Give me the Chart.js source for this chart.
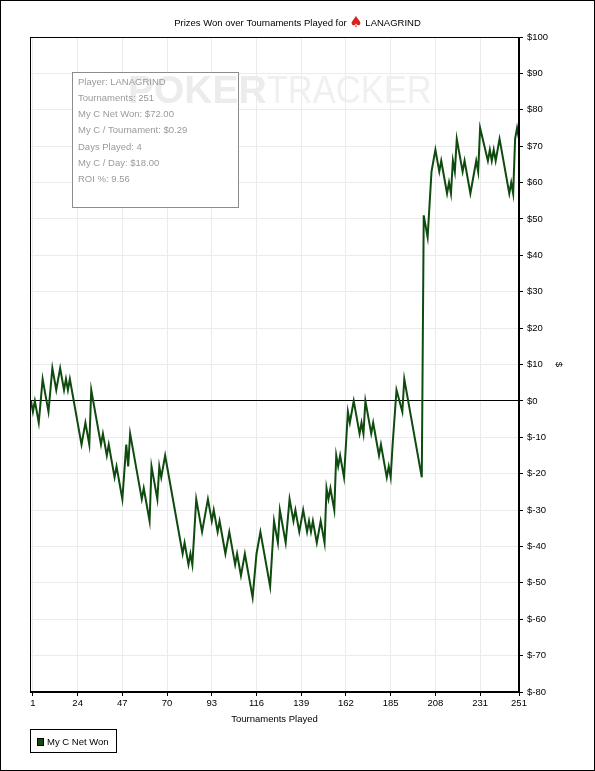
<!DOCTYPE html>
<html>
<head>
<meta charset="utf-8">
<script src="https://cdn.jsdelivr.net/npm/chart.js@4.4.1/dist/chart.umd.min.js"></script>
<style>
  body { margin: 0; background: #fff; }
  canvas { display: block; }
</style>
</head>
<body>
<canvas id="graficaTorneos" width="595" height="771"></canvas>
<script>
// 1. DATOS (vertices of the cumulative net won line)
const tournaments = [0,1,2,4,6,9,11,13,15,17,
  18,19,20,26,28,30,31,36,37,39,
  40,43,44,47,49,50,51,57,58,61,
  62,65,66,67,69,78,79,81,82,83,
  85,88,91,93,94,96,97,100,102,105,
  106,108,110,114,116,118,123,125,127,128,
  131,133,135,136,138,140,142,143,144,145,
  147,149,151,152,153,154,156,157,158,159,
  161,163,164,166,169,170,171,172,175,176,
  179,180,183,184,185,186,188,191,192,201,
  202,204,206,208,210,211,214,215,216,217,
  218,219,222,223,226,229,230,231,235,236,
  237,238,239,241,246,247,248,249,250,251];

const netWon = [0,-3,0,-6,6,-3,9,3,9,3,
  6,3,6,-12,-6,-12,3,-12,-9,-15,
  -12,-21,-18,-27,-12,-18,-9,-27,-24,-33,
  -18,-27,-18,-21,-15,-42,-39,-45,-42,-45,
  -27,-36,-27,-33,-30,-36,-33,-42,-36,-45,
  -42,-48,-42,-54,-42,-36,-51,-33,-39,-30,
  -39,-27,-33,-30,-36,-30,-36,-33,-36,-33,
  -39,-33,-39,-24,-27,-24,-30,-15,-18,-15,
  -21,-3,-6,0,-9,-6,-9,0,-9,-6,
  -15,-12,-21,-18,-21,-12,3,-3,6,-21,
  51,45,63,69,63,66,57,60,57,66,
  63,72,63,66,57,66,63,75,66,69,
  66,69,66,72,57,60,57,72,75,72];

const xTicks = [1,24,47,70,93,116,139,162,185,208,231,251];
const yMin = -80;
const yMax = 100;
const yStep = 10;

const seriesName = 'My C Net Won';
const playerName = 'LANAGRIND';
const titleText = 'Prizes Won over Tournaments Played for ';
const statsLines = [
  'Player: LANAGRIND',
  'Tournaments: 251',
  'My C Net Won: $72.00',
  'My C / Tournament: $0.29',
  'Days Played: 4',
  'My C / Day: $18.00',
  'ROI %: 9.56'
];

const lineColor = '#0f4a0f';
const FONT = '"Liberation Sans", Arial, sans-serif';

Chart.defaults.font.family = FONT;
Chart.defaults.font.size = 9.5;
Chart.defaults.color = '#000';

// 2. FONDO, MARCA DE AGUA Y CAJA DE ESTADISTICAS
const fondoPlugin = {
  id: 'fondo',
  beforeDraw(chart) {
    const ctx = chart.ctx;
    ctx.save();
    ctx.fillStyle = '#fff';
    ctx.fillRect(0, 0, chart.width, chart.height);
    ctx.restore();
  },
  beforeDatasetsDraw(chart) {
    const ctx = chart.ctx;
    ctx.save();
    // stats box background
    ctx.fillStyle = '#fff';
    ctx.fillRect(73, 73, 165, 134);

    // watermark
    ctx.textBaseline = 'alphabetic';
    ctx.fillStyle = '#ececec';
    ctx.font = 'bold 39px ' + FONT;
    ctx.fillText('POKER', 128, 103);
    const w = ctx.measureText('POKER').width;
    ctx.fillStyle = '#f0f0f0';
    ctx.font = '39px ' + FONT;
    const wt = ctx.measureText('TRACKER').width;
    ctx.translate(128 + w, 103);
    ctx.scale(165 / wt, 1);
    ctx.fillText('TRACKER', 0, 0);
    ctx.restore();

    ctx.save();
    ctx.fillStyle = '#9a9a9a';
    ctx.font = '9.5px ' + FONT;
    ctx.textBaseline = 'middle';
    statsLines.forEach((t, i) => {
      ctx.fillText(t, 78, 82.5 + i * 16.1);
    });
    ctx.strokeStyle = '#8c8c8c';
    ctx.lineWidth = 1;
    ctx.strokeRect(72.5, 72.5, 166, 135);
    ctx.restore();
  },
  afterDraw(chart) {
    const ctx = chart.ctx;
    const a = chart.chartArea;
    ctx.save();
    ctx.strokeStyle = '#000';
    ctx.lineWidth = 1;
    // plot frame and outer frame
    ctx.strokeRect(Math.round(a.left) + 0.5, Math.round(a.top) + 0.5,
      Math.round(a.right - a.left) - 1, Math.round(a.bottom - a.top) - 1);
    ctx.strokeRect(0.5, 0.5, chart.width - 1, chart.height - 1);

    // title with the red spade
    ctx.font = '9.5px ' + FONT;
    ctx.textBaseline = 'middle';
    ctx.fillStyle = '#000';
    const w1 = ctx.measureText(titleText).width;
    const w2 = ctx.measureText(playerName).width;
    const icon = 14;
    const total = w1 + icon + 2 + w2;
    let x = 297.5 - total / 2;
    ctx.fillText(titleText, x, 23.5);
    ctx.fillStyle = '#d8231f';
    ctx.font = '15px "DejaVu Sans", sans-serif';
    ctx.fillText('\u2660', x + w1, 23);
    ctx.fillStyle = '#000';
    ctx.font = '9.5px ' + FONT;
    ctx.fillText(playerName, x + w1 + icon + 2, 23.5);

    // legend
    ctx.strokeRect(30.5, 729.5, 86, 23);
    ctx.fillStyle = lineColor;
    ctx.fillRect(37.5, 738.5, 6, 7);
    ctx.strokeRect(37.5, 738.5, 6, 7);
    ctx.fillStyle = '#000';
    ctx.fillText(seriesName, 47, 742.5);
    ctx.restore();
  }
};

// 3. GRAFICA
const ctx = document.getElementById('graficaTorneos').getContext('2d');

window.miGrafica = new Chart(ctx, {
  type: 'line',
  data: {
    datasets: [{
      label: seriesName,
      data: tournaments.map((t, i) => ({ x: t, y: netWon[i] })),
      borderColor: lineColor,
      borderWidth: 2,
      pointRadius: 0,
      tension: 0,
      fill: false
    }]
  },
  options: {
    responsive: false,
    animation: false,
    devicePixelRatio: 1,
    layout: { padding: { top: 37, left: 30, right: 0, bottom: 0 } },
    plugins: {
      legend: { display: false },
      title: { display: false },
      tooltip: { enabled: false }
    },
    scales: {
      x: {
        type: 'linear',
        min: -0.5,
        max: 251,
        afterBuildTicks: s => { s.ticks = xTicks.map(v => ({ value: v })); },
        afterFit: s => { s.height = 79; },
        grid: { color: '#ebebeb', tickColor: '#000', tickLength: 4 },
        border: { color: '#000', width: 1 },
        ticks: { autoSkip: false, maxRotation: 0, padding: 2, color: '#000', callback: v => String(v) },
        title: {
          display: true,
          text: 'Tournaments Played',
          color: '#000',
          padding: { top: 0, bottom: 46 }
        }
      },
      y: {
        position: 'right',
        min: yMin,
        max: yMax,
        afterFit: s => { s.width = 76; },
        grid: {
          color: c => (c.tick && c.tick.value === 0) ? '#000' : '#ebebeb',
          tickColor: '#000',
          tickLength: 4
        },
        border: { color: '#000', width: 1 },
        ticks: { stepSize: yStep, padding: 4, color: '#000', callback: v => '$' + v },
        title: {
          display: true,
          text: '$',
          color: '#000',
          padding: { top: 31, bottom: 0 }
        }
      }
    }
  },
  plugins: [fondoPlugin]
});
</script>
</body>
</html>
